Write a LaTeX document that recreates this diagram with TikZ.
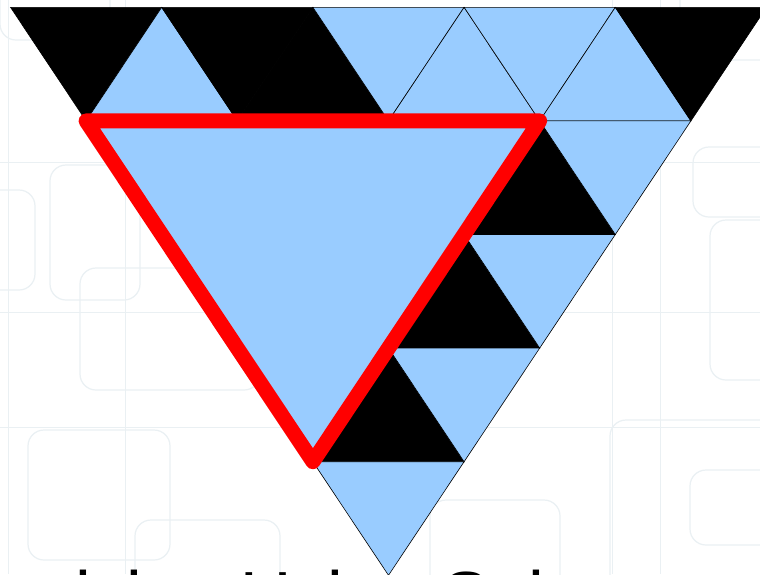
\documentclass[tikz,border=0pt]{standalone}
\usepackage{fontspec}
\setmainfont{Liberation Sans}
\definecolor{tri}{HTML}{99CCFF}
\definecolor{bgl}{RGB}{234,240,243}
\begin{document}
\begin{tikzpicture}[x=1pt,y=-1pt,
  bluet/.style={fill=tri,draw=black,line width=0.6pt,line join=miter},
  blackt/.style={fill=black,draw=black,line width=0.6pt},
  bigt/.style={fill=tri},
  redline/.style={draw=red,line width=15pt,line join=round},
  bgbox/.style={draw=bgl,line width=1.2pt,rounded corners=16pt},
  bgrule/.style={draw=bgl,line width=1pt}]
\useasboundingbox (0,0) rectangle (760,574);
\clip (0,0) rectangle (760,574);
\fill[white] (0,0) rectangle (760,574);
% faint background pattern
\draw[bgrule] (0,162) -- (760,162);
\draw[bgrule] (0,312) -- (760,312);
\draw[bgrule] (0,427) -- (760,427);
\draw[bgrule] (8,0) -- (8,574);
\draw[bgrule] (125,0) -- (125,574);
\draw[bgrule] (612,0) -- (612,574);
\draw[bgrule] (660,0) -- (660,574);
\draw[bgbox] (50,165) rectangle (140,300);
\draw[bgbox] (80,268) rectangle (260,390);
\draw[bgbox] (28,430) rectangle (170,560);
\draw[bgbox] (135,520) rectangle (280,620);
\draw[bgbox] (-20,190) rectangle (35,290);
\draw[bgbox] (693,147) rectangle (790,217);
\draw[bgbox] (710,220) rectangle (800,380);
\draw[bgbox] (610,420) rectangle (780,600);
\draw[bgbox] (690,470) rectangle (800,545);
\draw[bgbox] (430,500) rectangle (560,600);
\draw[bgbox] (680,-20) rectangle (800,60);
\draw[bgbox] (0,-30) rectangle (110,40);
% lattice points
\foreach \r in {0,...,5}{
  \pgfmathtruncatemacro\kmax{5-\r}
  \foreach \k in {0,...,\kmax}{
    \coordinate (v-\r-\k) at ({10.5+\r*75.6+\k*151.2},{7.3+\r*113.6});
  }
}
% row 0
\path[blackt] (v-0-0) -- (v-0-1) -- (v-1-0) -- cycle;
\path[bluet]  (v-1-0) -- (v-1-1) -- (v-0-1) -- cycle;
\path[blackt] (v-0-1) -- (v-0-2) -- (v-1-1) -- cycle;
\path[blackt] (v-1-1) -- (v-1-2) -- (v-0-2) -- cycle;
\path[bluet]  (v-0-2) -- (v-0-3) -- (v-1-2) -- cycle;
\path[bluet]  (v-1-2) -- (v-1-3) -- (v-0-3) -- cycle;
\path[bluet]  (v-0-3) -- (v-0-4) -- (v-1-3) -- cycle;
\path[bluet]  (v-1-3) -- (v-1-4) -- (v-0-4) -- cycle;
\path[blackt] (v-0-4) -- (v-0-5) -- (v-1-4) -- cycle;
% row 1
\path[blackt] (v-2-2) -- (v-2-3) -- (v-1-3) -- cycle;
\path[bluet]  (v-1-3) -- (v-1-4) -- (v-2-3) -- cycle;
% row 2
\path[blackt] (v-3-1) -- (v-3-2) -- (v-2-2) -- cycle;
\path[bluet]  (v-2-2) -- (v-2-3) -- (v-3-2) -- cycle;
% row 3
\path[blackt] (v-4-0) -- (v-4-1) -- (v-3-1) -- cycle;
\path[bluet]  (v-3-1) -- (v-3-2) -- (v-4-1) -- cycle;
% row 4
\path[bluet]  (v-4-0) -- (v-4-1) -- (v-5-0) -- cycle;
% big triangle with red outline
\path[bigt] (v-1-0) -- (v-1-3) -- (v-4-0) -- cycle;
\path[redline] (v-1-0) -- (v-1-3) -- (v-4-0) -- cycle;
% title, mostly below the frame
\node[anchor=base west,inner sep=0pt,font=\fontsize{71}{80}\selectfont] (title) at (0,621) {solving Using Subsets};
\end{tikzpicture}
\end{document}
